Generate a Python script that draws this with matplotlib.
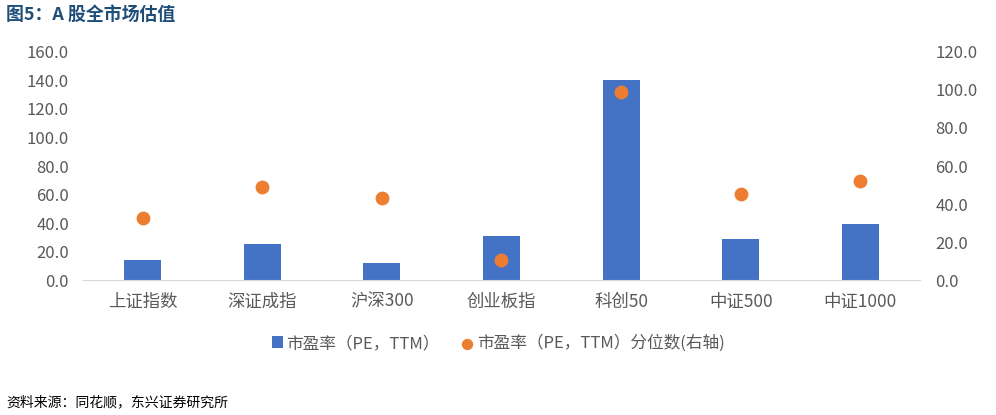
import matplotlib
matplotlib.use("Agg")
import matplotlib.pyplot as plt
import numpy as np

plt.rcParams['font.family'] = ['Noto Sans CJK SC', 'DejaVu Sans']

categories = ["上证指数", "深证成指", "沪深300", "创业板指", "科创50", "中证500", "中证1000"]
pe_ttm = [14.0, 25.0, 12.2, 30.9, 140.4, 28.5, 39.5]
pe_pct = [32.6, 49.0, 43.2, 10.5, 99.0, 45.4, 52.1]
left_ticks = [0, 20, 40, 60, 80, 100, 120, 140, 160]
right_ticks = [0, 20, 40, 60, 80, 100, 120]

bar_color = "#4472C4"
dot_color = "#ED7D31"
tick_color = "#595959"

fig = plt.figure(figsize=(9.96, 4.15), dpi=100)
ax = fig.add_axes([0.0833, 0.3253, 0.8404, 0.5494])
x = np.arange(len(categories))
b = ax.bar(x, pe_ttm, width=0.31, color=bar_color, zorder=2, label="市盈率（PE，TTM）")
ax.set_xlim(-0.5, len(categories) - 0.5)
ax.set_ylim(0, 160)
ax.set_yticks(left_ticks)
ax.set_yticklabels([f"{v:.1f}" for v in left_ticks])
ax.set_xticks(x)
ax.set_xticklabels(categories, fontsize=12.5)
for s in ["top", "right", "left"]:
    ax.spines[s].set_visible(False)
ax.spines["bottom"].set_color("#D9D9D9")
ax.tick_params(axis="both", length=0, colors=tick_color)
ax.tick_params(axis="y", labelsize=12, pad=10)
ax.tick_params(axis="x", pad=9)

ax2 = ax.twinx()
sc = ax2.scatter(x, pe_pct, s=80, color=dot_color, zorder=3, label="市盈率（PE，TTM）分位数(右轴)")
ax2.set_ylim(0, 120)
ax2.set_yticks(right_ticks)
ax2.set_yticklabels([f"{v:.1f}" for v in right_ticks])
for s in ["top", "right", "left", "bottom"]:
    ax2.spines[s].set_visible(False)
ax2.tick_params(axis="y", length=0, colors=tick_color, labelsize=12, pad=11)

leg = fig.legend([b, sc], ["市盈率（PE，TTM）", "市盈率（PE，TTM）分位数(右轴)"],
                 loc="center", bbox_to_anchor=(0.5, 0.173), ncol=2, frameon=False,
                 fontsize=12, handlelength=0.7, handletextpad=0.2, columnspacing=1.3,
                 markerscale=0.8)
for t in leg.get_texts():
    t.set_color(tick_color)

fig.text(0.006, 0.965, "图5：A 股全市场估值", fontsize=12.9, fontweight="bold",
         color="#1F4E79", va="center", ha="left")
fig.text(0.006, 0.03, "资料来源：同花顺，东兴证券研究所", fontsize=10, style="italic",
         color="#000000", va="center", ha="left")

fig.savefig("out.png", dpi=100)
